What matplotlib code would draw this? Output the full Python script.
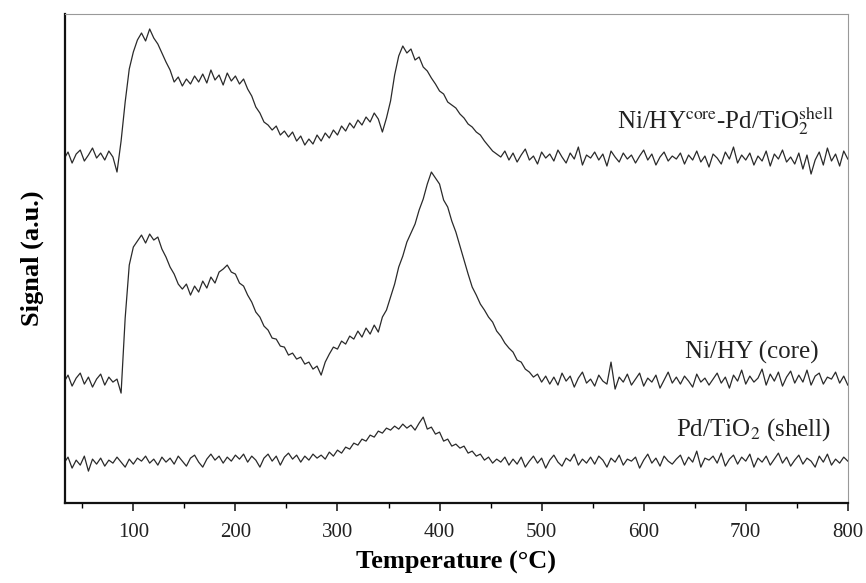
import numpy as np
import matplotlib
matplotlib.use("Agg")
import matplotlib.pyplot as plt
from matplotlib.ticker import MultipleLocator

plt.rcParams['font.family'] = ['Liberation Serif', 'DejaVu Serif']
plt.rcParams['mathtext.fontset'] = 'stix'

# temperature grid of the TPD scans (deg C)
temp = np.arange(32, 801, 4)

# Ni/HY(core)-Pd/TiO2(shell)
sig_coreshell = [
    344, 351, 340, 349, 353, 342, 348, 355, 345, 350,
    343, 352, 346, 331, 362, 401, 434, 451, 463, 470,
    462, 474, 465, 459, 450, 441, 433, 421, 426, 417,
    424, 419, 427, 421, 429, 420, 433, 423, 428, 418,
    430, 422, 427, 419, 424, 414, 407, 396, 390, 381,
    378, 373, 377, 368, 372, 366, 371, 362, 367, 358,
    364, 359, 368, 362, 370, 365, 373, 368, 377, 372,
    380, 375, 383, 378, 386, 381, 390, 384, 371, 385,
    402, 428, 447, 457, 450, 454, 443, 446, 436, 432,
    425, 419, 412, 409, 401, 398, 395, 389, 385, 379,
    376, 371, 368, 362, 357, 352, 349, 346, 352, 343,
    350, 341, 348, 354, 343, 347, 339, 351, 345, 349,
    342, 353, 346, 340, 350, 344, 356, 338, 348, 345,
    351, 343, 349, 337, 352, 346, 341, 350, 344, 348,
    340, 347, 353, 343, 349, 338, 346, 351, 342, 347,
    344, 350, 339, 348, 343, 352, 341, 347, 336, 349,
    345, 339, 351, 344, 356, 340, 348, 343, 350, 338,
    347, 342, 352, 337, 349, 344, 353, 341, 346, 339,
    350, 334, 348, 329, 343, 351, 338, 355, 342, 349,
    337, 352, 344,
]

# Ni/HY (core)
sig_core = [
    121, 128, 117, 125, 130, 119, 126, 116, 124, 129,
    118, 126, 121, 124, 110, 185, 238, 256, 262, 268,
    260, 269, 263, 266, 254, 246, 236, 229, 219, 214,
    219, 208, 217, 211, 222, 215, 226, 220, 231, 234,
    238, 231, 229, 220, 217, 208, 201, 191, 186, 177,
    173, 165, 164, 157, 156, 148, 150, 144, 146, 139,
    141, 134, 137, 128, 141, 149, 156, 154, 162, 159,
    167, 164, 172, 166, 175, 169, 178, 171, 186, 193,
    206, 219, 236, 247, 261, 270, 279, 293, 304, 319,
    331, 325, 319, 303, 296, 282, 271, 257, 243, 229,
    216, 208, 199, 193, 186, 181, 172, 167, 160, 155,
    151, 143, 141, 134, 131, 126, 129, 121, 127, 119,
    126, 118, 130, 122, 127, 116, 125, 131, 120, 124,
    117, 128, 122, 119, 141, 114, 126, 121, 129, 118,
    124, 130, 117, 125, 121, 128, 115, 123, 131, 120,
    126, 119, 127, 122, 116, 129, 121, 125, 118, 124,
    130, 120, 126, 115, 128, 122, 133, 119, 127, 121,
    125, 134, 118, 129, 122, 131, 117, 126, 132, 120,
    128, 121, 133, 118, 127, 130, 119, 126, 124, 131,
    120, 127, 118,
]

# Pd/TiO2 (shell)
sig_shell = [
    40, 46, 35, 43, 38, 47, 32, 44, 39, 45,
    37, 43, 40, 46, 41, 36, 44, 39, 45, 42,
    47, 40, 44, 38, 46, 41, 45, 39, 47, 42,
    37, 45, 48, 41, 36, 44, 49, 43, 47, 40,
    46, 42, 48, 44, 49, 41, 47, 43, 36, 45,
    49, 42, 47, 38, 46, 50, 44, 48, 41, 47,
    43, 49, 45, 48, 44, 51, 47, 53, 50, 56,
    54, 60, 58, 64, 62, 68, 66, 72, 70, 75,
    73, 77, 74, 79, 75, 78, 73, 80, 86, 74,
    76, 69, 71, 62, 64, 57, 59, 55, 57, 50,
    52, 47, 49, 43, 46, 40, 44, 41, 46, 38,
    44, 39, 46, 36, 42, 47, 40, 45, 35, 43,
    48, 41, 37, 45, 42, 49, 38, 44, 40, 46,
    39, 47, 43, 36, 45, 41, 48, 38, 44, 42,
    46, 35, 43, 49, 40, 45, 37, 47, 42, 39,
    44, 48, 38, 46, 41, 52, 36, 45, 43, 47,
    40, 50, 37, 44, 48, 39, 46, 42, 49, 36,
    45, 41, 47, 38, 44, 50, 40, 46, 37, 43,
    48, 39, 45, 42, 36, 47, 41, 49, 38, 44,
    40, 46, 42,
]

fig = plt.figure(figsize=(8.66, 5.83), dpi=100)
ax = fig.add_axes([0.075, 0.137, 0.904, 0.839])

for s in (sig_coreshell, sig_core, sig_shell):
    ax.plot(temp, s, color='#2a2a2a', lw=0.9)

ax.set_xlim(33, 800)
ax.set_ylim(0, 489)
ax.xaxis.set_major_locator(MultipleLocator(100))
ax.xaxis.set_minor_locator(MultipleLocator(50))
ax.tick_params(axis='x', which='major', direction='out', length=6, width=1.2,
               labelsize=15, pad=8, colors='#222222')
ax.tick_params(axis='x', which='minor', direction='out', length=3.5, width=1.0)
ax.set_yticks([])

ax.spines['left'].set_linewidth(1.6)
ax.spines['bottom'].set_linewidth(1.6)
ax.spines['left'].set_color('#111111')
ax.spines['bottom'].set_color('#111111')
ax.spines['top'].set_color('#999999')
ax.spines['right'].set_color('#999999')

ax.set_xlabel('Temperature (°C)', fontsize=19, fontweight='bold', labelpad=7)
ax.set_ylabel('Signal (a.u.)', fontsize=19, fontweight='bold', labelpad=15)

ax.text(786, 375, r'Ni/HY$^{\mathrm{core}}$-Pd/TiO$_{2}^{\mathrm{shell}}$',
        ha='right', va='baseline', fontsize=18, color='#222222')
ax.text(771, 145, 'Ni/HY (core)', ha='right', va='baseline', fontsize=18,
        color='#222222')
ax.text(783, 68, r'Pd/TiO$_{2}$ (shell)', ha='right', va='baseline', fontsize=18,
        color='#222222')

fig.savefig('out.png', dpi=100)
